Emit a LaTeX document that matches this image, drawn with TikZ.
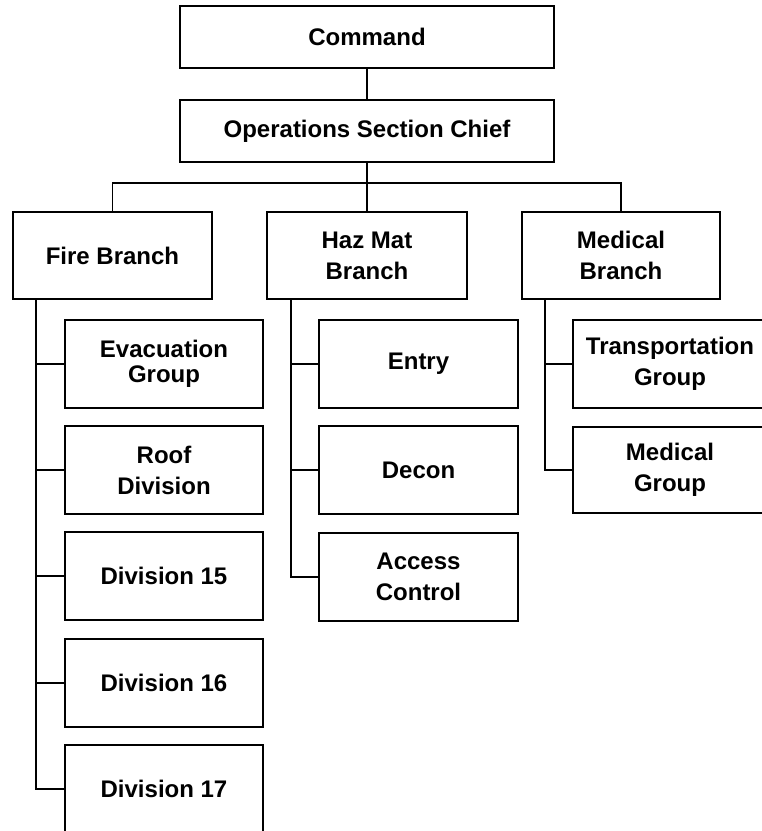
\documentclass[tikz,border=0pt]{standalone}
\usepackage{fontspec}
\setmainfont{Liberation Sans}
\begin{document}
\begin{tikzpicture}[x=1pt,y=-1pt,
  box/.style={draw,line width=2.2pt,rectangle,align=center,inner sep=0pt,
    font=\bfseries\fontsize{24}{31}\selectfont},
  conn/.style={line width=1.6pt}]
\useasboundingbox (0,0) rectangle (762,831);
\clip (0,0) rectangle (762,831);
\node[box,minimum width=374pt,minimum height=62pt] (command) at (367,37) {Command};
\node[box,minimum width=374pt,minimum height=62pt] (ops) at (367,131) {Operations Section Chief};
\node[box,minimum width=199pt,minimum height=87pt] (fire) at (112.5,255.5) {Fire Branch};
\node[box,minimum width=200pt,minimum height=87pt] (haz) at (367,255.5) {Haz Mat\\Branch};
\node[box,minimum width=198pt,minimum height=87pt] (med) at (621,255.5) {Medical\\Branch};
% fire subs
\node[box,minimum width=198pt,minimum height=88pt,font=\bfseries\fontsize{24}{24.5}\selectfont] (evac) at (164,364) {Evacuation\\Group};
\node[box,minimum width=198pt,minimum height=88pt] (roof) at (164,470) {Roof\\Division};
\node[box,minimum width=198pt,minimum height=88pt] (div15) at (164,576) {Division 15};
\node[box,minimum width=198pt,minimum height=88pt] (div16) at (164,683) {Division 16};
\node[box,minimum width=198pt,minimum height=88pt] (div17) at (164,789) {Division 17};
% haz subs
\node[box,minimum width=199pt,minimum height=88pt] (entry) at (418.5,364) {Entry};
\node[box,minimum width=199pt,minimum height=88pt] (decon) at (418.5,470) {Decon};
\node[box,minimum width=199pt,minimum height=88pt] (access) at (418.5,577) {Access\\Control};
% med subs
\node[box,minimum width=194pt,minimum height=88pt] (trans) at (670,364) {Transportation\\Group};
\node[box,minimum width=194pt,minimum height=86pt] (medgrp) at (670,470) {Medical\\Group};
% top connectors
\coordinate (hb) at (367,183);
\draw[conn] (command) -- (ops);
\draw[conn] (ops.south) -- (hb) -- (haz.north);
\draw[conn] (fire.north) |- (hb) -| (med.north);
% fire branch
\coordinate (fv) at ([xshift=24pt]fire.south west);
\draw[conn] (fv) |- (div17.west);
\foreach \n in {evac,roof,div15,div16} \draw[conn] (\n.west) -- (\n.west -| fv);
% haz branch
\coordinate (hv) at ([xshift=25pt]haz.south west);
\draw[conn] (hv) |- (access.west);
\foreach \n in {entry,decon} \draw[conn] (\n.west) -- (\n.west -| hv);
% med branch
\coordinate (mv) at ([xshift=24pt]med.south west);
\draw[conn] (mv) |- (medgrp.west);
\draw[conn] (trans.west) -- (trans.west -| mv);
\end{tikzpicture}
\end{document}
